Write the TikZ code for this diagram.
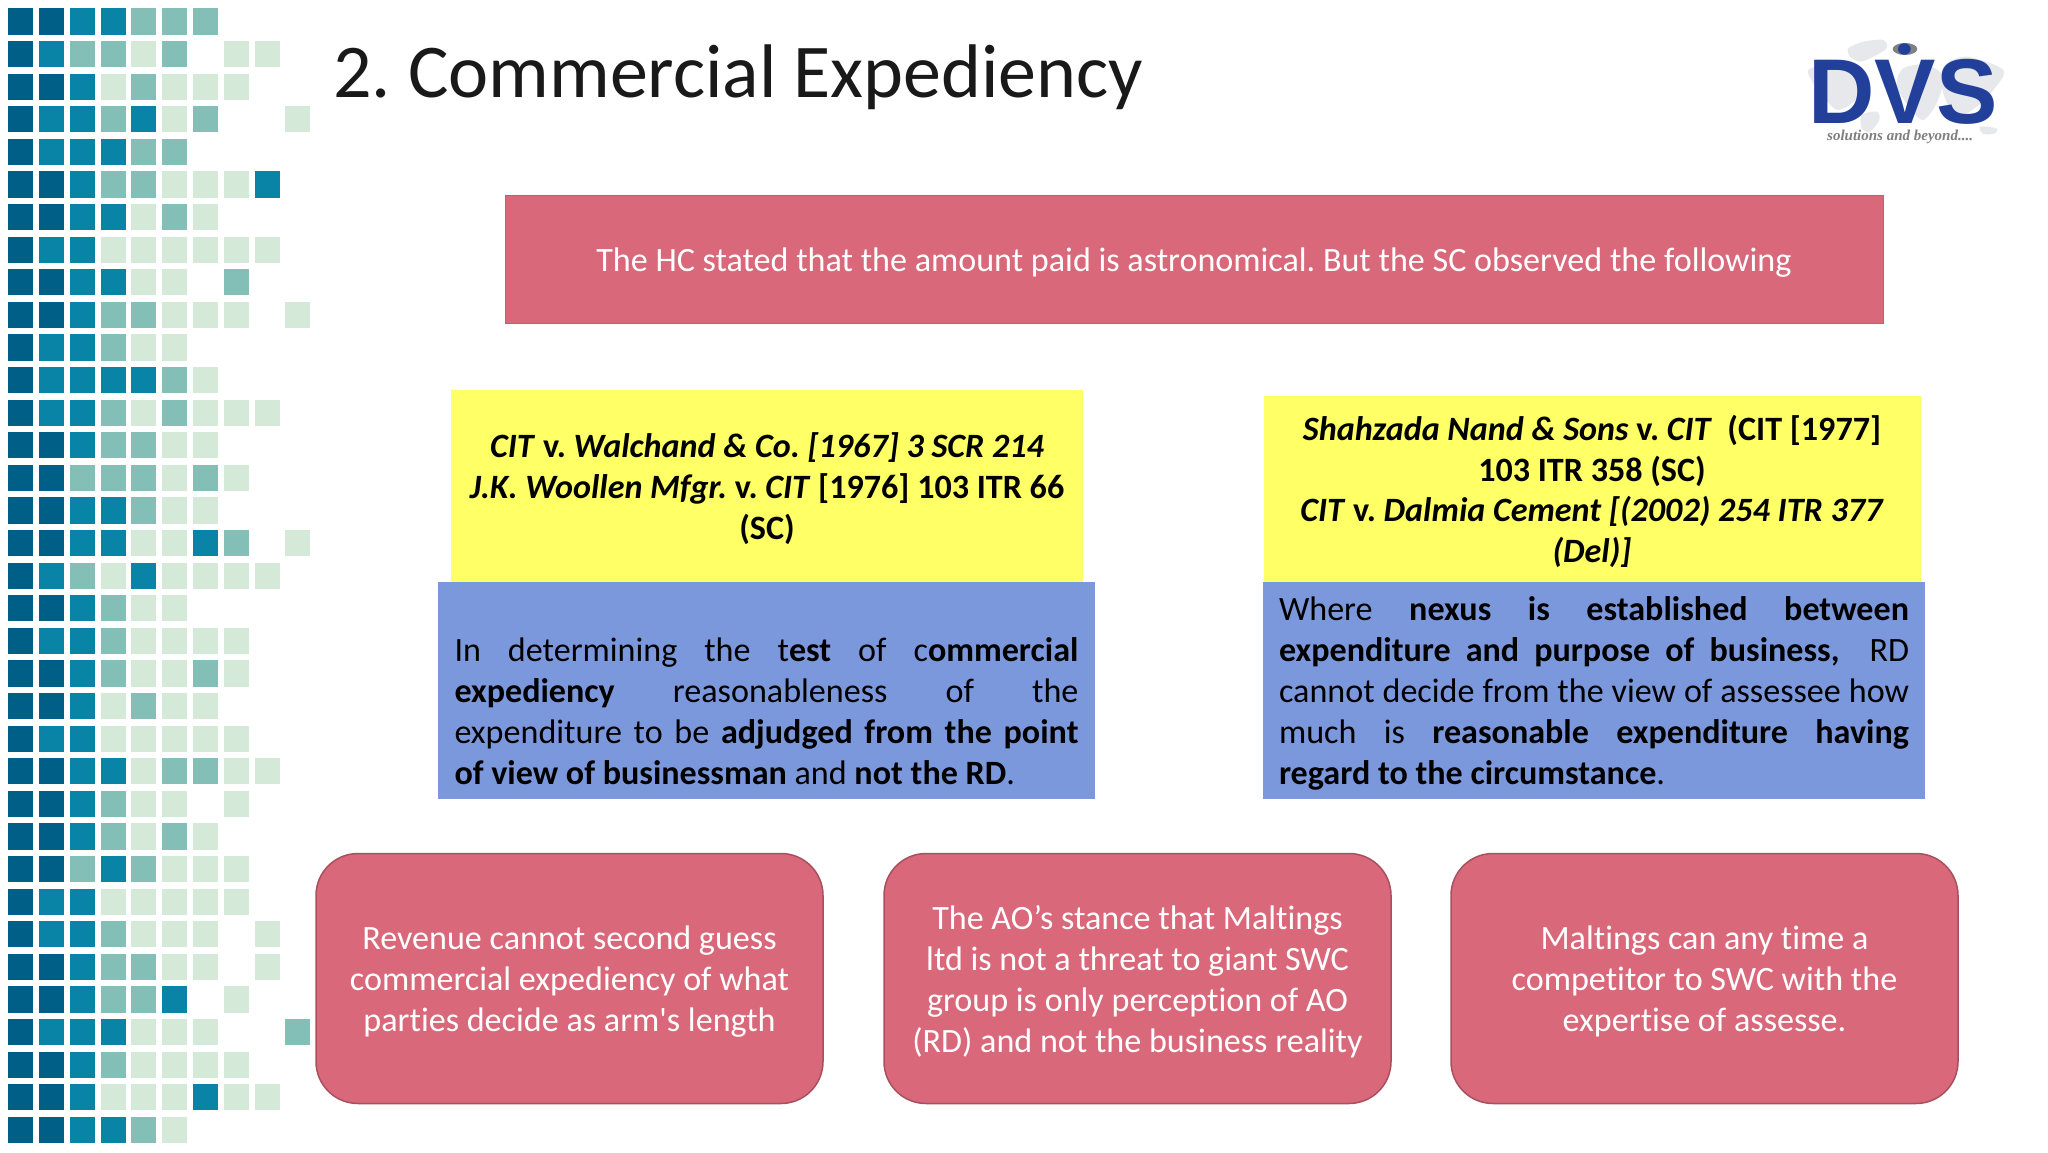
\documentclass[tikz,border=0pt]{standalone}
\usepackage{fontspec}
\setmainfont{Carlito}[Ligatures=NoCommon]
\newfontfamily\logofont{Liberation Sans}
\newfontfamily\tagfont{Liberation Serif}
\definecolor{sqD}{HTML}{005F86}
\definecolor{sqB}{HTML}{0A84A6}
\definecolor{sqM}{HTML}{84BFB7}
\definecolor{sqL}{HTML}{D4E9D8}
\definecolor{sqN}{HTML}{FFFFFF}
\definecolor{redfill}{HTML}{D8687A}
\definecolor{redline}{HTML}{A9505F}
\definecolor{yellowfill}{HTML}{FFFF66}
\definecolor{bluefill}{HTML}{7C98DC}
\definecolor{logoblue}{HTML}{22409A}
\definecolor{logogrey}{HTML}{E6E8EC}
\definecolor{taggrey}{HTML}{7F7F7F}
\newcommand{\bi}[1]{\textbf{\textit{#1}}}
\newcommand{\jl}[2]{\hbox to #1pt{#2}}
\tikzset{
  bodyfont/.style={font=\frenchspacing\fontsize{34.1pt}{40.9pt}\selectfont},
  flatbox/.style={inner sep=0pt,align=center,bodyfont,text depth=0pt},
  redbar/.style={flatbox,fill=redfill,text=white,draw=redfill!90!black,line width=0.8pt},
  redround/.style={flatbox,rectangle,rounded corners=42pt,fill=redfill,text=white,draw=redline,line width=1.5pt,minimum width=507pt,minimum height=250pt},
  yellowbox/.style={flatbox,fill=yellowfill,text=black},
  bluebox/.style={flatbox,fill=bluefill,text=black},
}
\begin{document}
\begin{tikzpicture}[x=1pt,y=-1pt]
\useasboundingbox (0,0) rectangle (2048,1152);
\fill[white] (0,0) rectangle (2048,1152);
% mosaic
\foreach \rowlist [count=\r from 0] in {
 {D,D,B,B,M,M,M},
 {D,B,M,M,L,M,N,L,L},
 {D,D,B,L,M,L,L,L},
 {D,B,B,M,B,L,M,N,N,L},
 {D,B,B,B,M,M},
 {D,D,B,M,M,L,L,L,B},
 {D,D,B,B,L,M,L},
 {D,B,B,L,L,L,L,L,L},
 {D,D,B,B,L,L,N,M},
 {D,D,B,M,M,L,L,L,N,L},
 {D,B,B,M,L,L},
 {D,B,B,B,B,M,L},
 {D,B,B,M,L,M,L,L,L},
 {D,D,B,M,M,L,L},
 {D,D,M,M,M,L,M,L},
 {D,D,B,B,M,L,L},
 {D,D,B,B,L,L,B,M,N,L},
 {D,B,M,L,B,L,L,L,L},
 {D,D,B,M,L,L},
 {D,B,B,M,L,L,L,L},
 {D,D,B,M,L,L,M,L},
 {D,D,B,L,M,L,L},
 {D,B,B,L,L,L,L,L},
 {D,D,B,B,L,M,M,L,L},
 {D,D,B,M,L,L,N,L},
 {D,D,B,M,L,M,L},
 {D,D,M,B,M,L,L,L},
 {D,B,B,L,L,L,L,L},
 {D,B,B,M,L,L,L,N,L},
 {D,D,B,M,M,L,L,N,L},
 {D,D,B,M,M,B,N,L},
 {D,B,B,B,L,L,L,N,N,M},
 {D,D,B,M,L,L,L,L},
 {D,D,B,L,L,L,B,L,L},
 {D,D,B,B,M,L}} {
  \foreach \c [count=\i from 0] in \rowlist {
    \fill[fill=sq\c] ({8.3+30.78*\i},{8.3+32.6*\r}) rectangle +(25,26.3);
  }
}
% title
\node[anchor=base west,inner sep=0pt,font=\frenchspacing\fontsize{76pt}{90pt}\selectfont,text=black!90] (title) at (333,97) {2. Commercial Expediency};
% logo
\begin{scope}[shift={(1780,20)},x=0.3333pt,y=-0.3333pt]
  \fill[logogrey] plot[smooth cycle] coordinates {(205,85)(250,65)(310,60)(320,85)(280,110)(240,125)(210,110)};
  \fill[logogrey] plot[smooth cycle] coordinates {(85,150)(150,135)(240,150)(260,200)(215,250)(170,270)(130,230)(100,190)};
  \fill[logogrey] plot[smooth cycle] coordinates {(245,285)(290,275)(298,300)(270,335)(245,325)};
  \fill[logogrey] plot[smooth cycle] coordinates {(370,145)(440,135)(490,170)(470,250)(430,300)(395,270)(350,200)};
  \fill[logogrey] plot[smooth cycle] coordinates {(490,140)(560,110)(670,150)(640,210)(590,260)(530,290)(490,220)};
  \fill[logogrey] plot[smooth cycle] coordinates {(600,320)(650,325)(645,340)(610,342)};
  \fill[black!45!logogrey] (375,87) ellipse [x radius=37,y radius=18];
  \fill[logoblue] (373,87) ellipse [x radius=19,y radius=17];
\end{scope}
\node[anchor=base west,inner sep=0pt,text depth=0pt,text=logoblue,font=\logofont\bfseries\fontsize{92pt}{92pt}\selectfont] (logo) at (1808,123) {DVS};
\node[anchor=base west,inner sep=0pt,text height=11pt,text=taggrey,font=\tagfont\bfseries\itshape\fontsize{15pt}{15pt}\selectfont] (tag) at (1827,140) {solutions and beyond....};
% top bar
\node[redbar,minimum width=1378pt,minimum height=128pt,text height=24.6pt] (bar) at (1194,259)
  {The HC stated that the amount paid is astronomical. But the SC observed the following};
% yellow boxes
\node[yellowbox,minimum width=632pt,minimum height=192pt,text height=106.6pt] (y1) at (767,486)
  {\bi{CIT} \textbf{v.} \bi{Walchand \& Co. [1967] 3 SCR 214}\\
   \bi{J.K. Woollen Mfgr.} \textbf{v.} \bi{CIT} \textbf{[1976] 103 ITR 66}\\
   \textbf{(SC)}};
\node[yellowbox,minimum width=657pt,minimum height=186pt,text height=147.6pt] (y2) at (1592,489)
  {\bi{Shahzada Nand \& Sons} \textbf{v.} \bi{CIT}\ \ \textbf{(CIT [1977]}\\
   \textbf{103 ITR 358 (SC)}\\
   \bi{CIT} \textbf{v.} \bi{Dalmia Cement [(2002) 254 ITR 377}\\
   \bi{(Del)]}};
% blue boxes
\node[bluebox,minimum width=657pt,minimum height=217pt,text height=187.6pt] (b1) at (766.5,690.5)
  {\vbox{\baselineskip=40.9pt
   \jl{624}{In determining the t\textbf{est} of c\textbf{ommercial}}
   \jl{624}{\textbf{expediency} reasonableness of the}
   \jl{624}{expenditure to be \textbf{adjudged from the point}}
   \hbox{\textbf{of view of businessman} and \textbf{not the RD}.}}};
\node[bluebox,minimum width=662pt,minimum height=217pt,text height=187.6pt] (b2) at (1594,690.5)
  {\vbox{\baselineskip=40.9pt
   \jl{630}{Where \textbf{nexus is established between}}
   \jl{630}{\textbf{expenditure and purpose of business,}\ \ RD}
   \jl{630}{cannot decide from the view of assessee how}
   \jl{630}{much is \textbf{reasonable expenditure having}}
   \hbox{\textbf{regard to the circumstance}.}}};
% rounded boxes
\node[redround,text height=105.6pt] (r1) at (569.5,978.5)
  {Revenue cannot second guess\\commercial expediency of what\\parties decide as arm\textquotesingle s length};
\node[redround,text height=147.6pt] (r2) at (1137.5,978.5)
  {The AO’s stance that Maltings\\ltd is not a threat to giant SWC\\group is only perception of AO\\(RD) and not the business reality};
\node[redround,text height=105.6pt] (r3) at (1704.5,978.5)
  {Maltings can any time a\\competitor to SWC with the\\expertise of assesse.};
\end{tikzpicture}
\end{document}
